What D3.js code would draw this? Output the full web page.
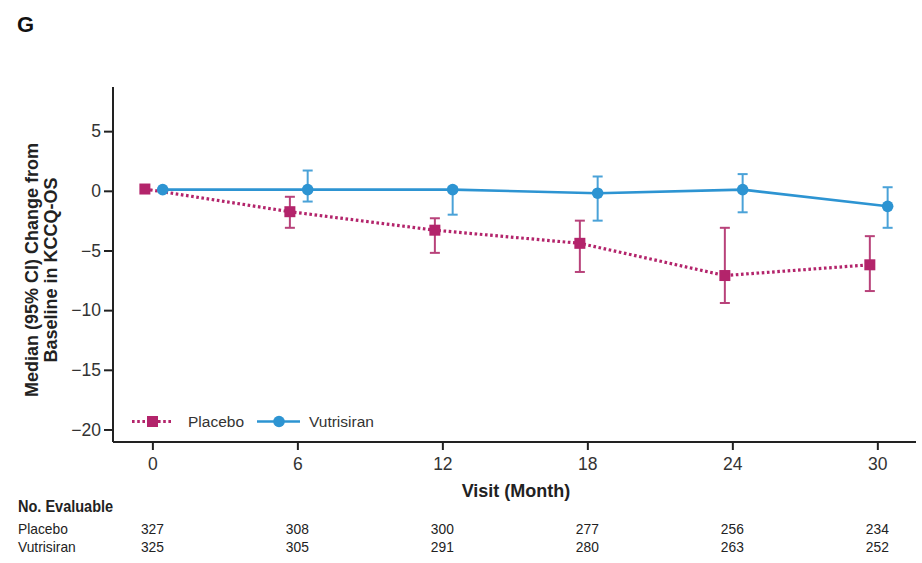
<!DOCTYPE html>
<html><head><meta charset="utf-8">
<script src="https://cdn.jsdelivr.net/npm/d3@7"></script>
<style>
html,body{margin:0;padding:0;background:#fff;}
svg{display:block;font-family:"Liberation Sans",Arial,sans-serif;}
</style></head>
<body><svg id="c" width="922" height="563"></svg>
<script>
const months = [0, 6, 12, 18, 24, 30];
const yTicks = [5, 0, -5, -10, -15, -20];
const placeboMedian = [0.15, -1.75, -3.3, -4.4, -7.1, -6.2];
const placeboLow    = [0.15, -3.1, -5.2, -6.8, -9.4, -8.4];
const placeboHigh   = [0.15, -0.5, -2.3, -2.5, -3.1, -3.8];
const vutriMedian   = [0.1, 0.1, 0.1, -0.2, 0.1, -1.3];
const vutriLow      = [0.1, -0.9, -2.0, -2.5, -1.8, -3.1];
const vutriHigh     = [0.1, 1.7, 0.3, 1.2, 1.4, 0.3];
const placeboN = [327, 308, 300, 277, 256, 234];
const vutriN   = [325, 305, 291, 280, 263, 252];
const seriesNames = ["Placebo", "Vutrisiran"];

const svg = d3.select("#c");
const pink = "#b3246b", pinkBar = "#b8427a";
const blue = "#2d94d2", blueBar = "#4aa2d8";

const x = d3.scaleLinear().domain([-1.63, 31.6]).range([113, 916]);
const y = d3.scaleLinear().domain([-21.05, 8.7]).range([442, 87]);

// Panel letter
svg.append("text").attr("x", 17).attr("y", 32).attr("font-size", 22).attr("font-weight", "bold").attr("fill", "#111").text("G");

// Y axis
const yAxis = svg.append("g").attr("transform", "translate(113,0)")
  .call(d3.axisLeft(y).tickValues(yTicks).tickSize(9).tickPadding(3).tickFormat(d => d < 0 ? "\u2212" + Math.abs(d) : d));
yAxis.select(".domain").attr("stroke", "#222").attr("stroke-width", 2).attr("d", `M0,${y.range()[1]}V${y.range()[0]}`);
yAxis.selectAll(".tick line").attr("stroke", "#222").attr("stroke-width", 2);
yAxis.selectAll(".tick text").attr("font-size", 17.5).attr("fill", "#333").attr("font-family", "Liberation Sans, Arial, sans-serif");

// X axis
const xAxis = svg.append("g").attr("transform", "translate(0,442)")
  .call(d3.axisBottom(x).tickValues(months).tickSize(8).tickPadding(8));
xAxis.select(".domain").attr("stroke", "#222").attr("stroke-width", 2).attr("d", `M${x.range()[0]},0H${x.range()[1]}`);
xAxis.selectAll(".tick line").attr("stroke", "#222").attr("stroke-width", 2);
xAxis.selectAll(".tick text").attr("font-size", 17.5).attr("fill", "#333").attr("font-family", "Liberation Sans, Arial, sans-serif");

// Axis titles
const yt = svg.append("text").attr("transform", "translate(38,270) rotate(-90)")
  .attr("text-anchor", "middle").attr("font-size", 18).attr("font-weight", "bold").attr("fill", "#222");
yt.append("tspan").attr("x", 0).attr("dy", 0).text("Median (95% CI) Change from");
yt.append("tspan").attr("x", 0).attr("dy", 19).text("Baseline in KCCQ-OS");

svg.append("text").attr("x", 516).attr("y", 497).attr("text-anchor", "middle")
  .attr("font-size", 18).attr("font-weight", "bold").attr("fill", "#222").text("Visit (Month)");

// Series
const offP = -7.5, offV = 10.3;
function drawSeries(med, lo, hi, off, color, barColor, dashed, shape) {
  const pts = months.map((m, i) => ({x: x(m) + off, m: med[i], lo: lo[i], hi: hi[i], i}));
  const line = d3.line().x(d => d.x).y(d => y(d.m));
  const eb = svg.append("g");
  pts.filter(d => d.i > 0).forEach(d => {
    eb.append("line").attr("x1", d.x).attr("x2", d.x).attr("y1", y(d.lo)).attr("y2", y(d.hi)).attr("stroke", barColor).attr("stroke-width", 2);
    [d.lo, d.hi].forEach(v => eb.append("line").attr("x1", d.x - 5).attr("x2", d.x + 5).attr("y1", y(v)).attr("y2", y(v)).attr("stroke", barColor).attr("stroke-width", 2));
  });
  const p = svg.append("path").datum(pts).attr("d", line).attr("fill", "none").attr("stroke", color);
  if (dashed) p.attr("stroke-width", 3.2).attr("stroke-dasharray", "2.6,2.6");
  else p.attr("stroke-width", 2.6);
  pts.forEach(d => {
    if (shape === "square") svg.append("rect").attr("x", d.x - 5.5).attr("y", y(d.m) - 5.5).attr("width", 11).attr("height", 11).attr("fill", color);
    else svg.append("circle").attr("cx", d.x).attr("cy", y(d.m)).attr("r", 5.8).attr("fill", color);
  });
}
drawSeries(placeboMedian, placeboLow, placeboHigh, offP, pink, pinkBar, true, "square");
drawSeries(vutriMedian, vutriLow, vutriHigh, offV, blue, blueBar, false, "circle");

// Legend
const lg = svg.append("g").attr("font-size", 15.5).attr("fill", "#333");
lg.append("line").attr("x1", 132).attr("x2", 173).attr("y1", 421.5).attr("y2", 421.5).attr("stroke", pink).attr("stroke-width", 3.2).attr("stroke-dasharray", "2.6,2.6");
lg.append("rect").attr("x", 147).attr("y", 416).attr("width", 11).attr("height", 11).attr("fill", pink);
lg.append("text").attr("x", 188).attr("y", 427).text(seriesNames[0]).attr("fill", "#333");
lg.append("line").attr("x1", 257).attr("x2", 300).attr("y1", 421.5).attr("y2", 421.5).attr("stroke", blue).attr("stroke-width", 2.6);
lg.append("circle").attr("cx", 279).attr("cy", 421.5).attr("r", 5.8).attr("fill", blue);
lg.append("text").attr("x", 309).attr("y", 427).text(seriesNames[1]).attr("fill", "#333");

// Risk table (condensed text)
const tb = svg.append("g").attr("fill", "#222");
function tText(tx, ty, str, anchor, bold, fs, sx) {
  const t = tb.append("text").attr("transform", `translate(${tx},${ty}) scale(${sx},1)`)
    .attr("font-size", fs).attr("text-anchor", anchor).text(str);
  if (bold) t.attr("font-weight", "bold");
}
tText(18, 512, "No. Evaluable", "start", true, 16.5, 0.88);
tText(18, 534, seriesNames[0], "start", false, 15, 0.92);
tText(18, 552, seriesNames[1], "start", false, 15, 0.92);
months.forEach((m, i) => {
  tText(x(m), 534, placeboN[i], "middle", false, 15, 0.92);
  tText(x(m), 552, vutriN[i], "middle", false, 15, 0.92);
});
</script>
</body></html>
